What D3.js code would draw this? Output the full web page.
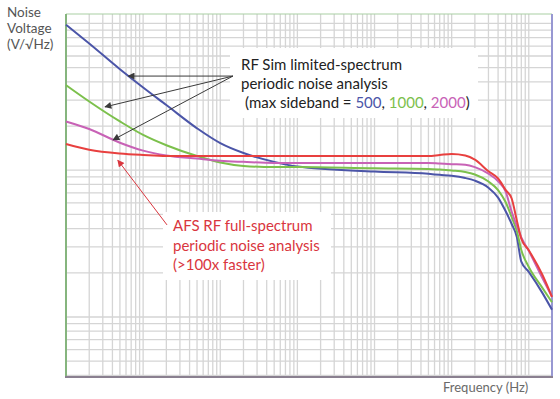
<!DOCTYPE html>
<html>
<head>
<meta charset="utf-8">
<script src="https://cdn.jsdelivr.net/npm/d3@7"></script>
<style>
  html, body { margin: 0; padding: 0; background: #fff; }
  svg { display: block; font-family: Lato, 'Open Sans', sans-serif; }
</style>
</head>
<body>
<svg id="chart"></svg>
<script>
// frequency samples (Hz) shared by all series
const frequencies = [1, 2, 5, 10, 20, 50, 100, 200, 500, 1e3, 1e4, 5e4, 7e4, 1e5, 1.5e5, 2e5, 3e5, 4e5, 5e5, 6e5, 7e5, 8e5, 1e6, 1.5e6, 2e6];

// noise voltage, arbitrary units
const sideband500 = [98, 73, 48.8, 36.6, 27.8, 19.3, 15.3, 13.1, 11.4, 10.6, 9.8, 9.45, 9.3, 9.16, 8.85, 8.49, 7.6, 6.51, 5.27, 4.3, 3.51, 2.38, 2.03, 1.46, 1.12];
const sideband1000 = [38, 29.4, 21.5, 17.4, 14.8, 12.5, 11.3, 10.7, 10.5, 10.5, 10.3, 10.2, 10.1, 9.95, 9.72, 9.35, 8.37, 7.33, 6.07, 4.8, 3.85, 2.86, 2.19, 1.58, 1.26];
const sideband2000 = [21.5, 19.1, 15.4, 13.6, 12.6, 12.0, 11.6, 11.4, 11.2, 11.2, 11.2, 11.2, 11.1, 11.0, 10.9, 10.5, 9.47, 8.41, 7.17, 5.21, 4.17, 3.49, 2.82, 1.84, 1.37];
const afsFullSpectrum = [15.1, 13.8, 13.0, 12.7, 12.5, 12.5, 12.5, 12.5, 12.5, 12.5, 12.5, 12.5, 12.7, 12.9, 12.6, 11.8, 9.83, 8.78, 7.35, 6.42, 4.55, 3.41, 2.85, 1.94, 1.37];

const series = [
  { name: '500', values: sideband500, color: '#4b55a8' },
  { name: '1000', values: sideband1000, color: '#7cc04c' },
  { name: '2000', values: sideband2000, color: '#c862b6' },
  { name: 'AFS', values: afsFullSpectrum, color: '#e8403f' }
];

const yTitle = ['Noise', 'Voltage', '(V/\u221AHz)'];
const xTitle = 'Frequency (Hz)';
const rfLines = ['RF Sim limited-spectrum', 'periodic noise analysis'];
const afsLines = ['AFS RF full-spectrum', 'periodic noise analysis', '(>100x faster)'];

// annotation anchors in data units [frequency, voltage]
const rfArrowFrom = [146, 43.8];
const rfArrowTo = [[6.4, 43.8], [3.2, 27], [4.07, 16.1]];
const afsArrowFrom = [20.4, 4.24];
const afsArrowTo = [4.7, 11.7];

const width = 560;
const height = 399;
const margin = { top: 14, right: 8, bottom: 22, left: 66 };

const svg = d3.select('#chart')
  .attr('width', width)
  .attr('height', height);

const x = d3.scaleLog()
  .domain([1, 2e6])
  .range([margin.left, width - margin.right]);

const y = d3.scaleLog()
  .domain([0.39, 116])
  .range([height - margin.bottom, margin.top]);

const logGrid = (lo, hi) => {
  const out = [];
  for (let n = lo; n <= hi; n++) {
    for (let k = 1; k <= 9; k++) out.push(k * Math.pow(10, n));
  }
  return out;
};

const xGrid = logGrid(0, 6).filter(d => d > 1 && d < 2e6);
const yGrid = logGrid(-1, 2).filter(d => d > 0.39 && d < 116);

// grid
const grid = svg.append('g')
  .attr('stroke', '#d5d5d5')
  .attr('stroke-width', 1.3);

grid.selectAll('.vx')
  .data(xGrid)
  .join('line')
  .attr('x1', d => x(d))
  .attr('x2', d => x(d))
  .attr('y1', margin.top)
  .attr('y2', height - margin.bottom);

grid.selectAll('.hy')
  .data(yGrid)
  .join('line')
  .attr('x1', margin.left)
  .attr('x2', width - margin.right)
  .attr('y1', d => y(d))
  .attr('y2', d => y(d));

// white label boxes hide the grid behind the text
svg.append('rect')
  .attr('x', 230).attr('y', 48)
  .attr('width', 248).attr('height', 70)
  .attr('fill', '#fff');

svg.append('rect')
  .attr('x', 163).attr('y', 212)
  .attr('width', 168).attr('height', 68)
  .attr('fill', '#fff');

// plot borders
svg.append('line')
  .attr('x1', margin.left).attr('x2', width - margin.right)
  .attr('y1', margin.top).attr('y2', margin.top)
  .attr('stroke', '#a9cfa4').attr('stroke-width', 1.2);

svg.append('line')
  .attr('x1', margin.left).attr('x2', margin.left)
  .attr('y1', margin.top).attr('y2', height - margin.bottom)
  .attr('stroke', '#86b57e').attr('stroke-width', 2);

svg.append('line')
  .attr('x1', width - margin.right).attr('x2', width - margin.right)
  .attr('y1', margin.top).attr('y2', height - margin.bottom)
  .attr('stroke', '#9898d2').attr('stroke-width', 2);

svg.append('line')
  .attr('x1', margin.left - 1).attr('x2', width - margin.right + 1)
  .attr('y1', height - margin.bottom).attr('y2', height - margin.bottom)
  .attr('stroke', '#8a8090').attr('stroke-width', 2);

// curves
const line = d3.line()
  .x((d, i) => x(frequencies[i]))
  .y(d => y(d))
  .curve(d3.curveMonotoneX);

svg.append('g')
  .selectAll('path')
  .data(series)
  .join('path')
  .attr('fill', 'none')
  .attr('stroke', d => d.color)
  .attr('stroke-width', 2)
  .attr('stroke-linejoin', 'round')
  .attr('d', d => line(d.values));

// arrow markers
const defs = svg.append('defs');
[['arrowDark', '#3a3a3a'], ['arrowRed', '#d9363e']].forEach(([id, color]) => {
  defs.append('marker')
    .attr('id', id)
    .attr('viewBox', '0 0 10 10')
    .attr('refX', 9).attr('refY', 5)
    .attr('markerWidth', 8).attr('markerHeight', 7)
    .attr('markerUnits', 'userSpaceOnUse')
    .attr('orient', 'auto')
    .append('path')
    .attr('d', 'M0,0L10,5L0,10Z')
    .attr('fill', color);
});

svg.append('g')
  .selectAll('line')
  .data(rfArrowTo)
  .join('line')
  .attr('x1', x(rfArrowFrom[0]))
  .attr('y1', y(rfArrowFrom[1]))
  .attr('x2', d => x(d[0]))
  .attr('y2', d => y(d[1]))
  .attr('stroke', '#3a3a3a')
  .attr('stroke-width', 1)
  .attr('marker-end', 'url(#arrowDark)');

svg.append('line')
  .attr('x1', x(afsArrowFrom[0]))
  .attr('y1', y(afsArrowFrom[1]))
  .attr('x2', x(afsArrowTo[0]))
  .attr('y2', y(afsArrowTo[1]))
  .attr('stroke', '#d9363e')
  .attr('stroke-width', 1)
  .attr('marker-end', 'url(#arrowRed)');

// annotation text
const rfText = svg.append('text')
  .attr('font-size', 15)
  .attr('fill', '#222');

rfLines.forEach((t, i) => {
  rfText.append('tspan')
    .attr('x', 241)
    .attr('y', 70 + i * 19)
    .text(t);
});

const sidebandLine = svg.append('text')
  .attr('x', 245)
  .attr('y', 108)
  .attr('font-size', 15)
  .attr('fill', '#222');

sidebandLine.append('tspan').text('(max sideband = ');
series.slice(0, 3).forEach((s, i) => {
  sidebandLine.append('tspan').attr('fill', s.color).text(s.name);
  sidebandLine.append('tspan').text(i < 2 ? ', ' : ')');
});

const afsText = svg.append('text')
  .attr('font-size', 15)
  .attr('fill', '#d9363e');

afsLines.forEach((t, i) => {
  afsText.append('tspan')
    .attr('x', 173)
    .attr('y', 231 + i * 19.5)
    .text(t);
});

// axis titles
const yt = svg.append('text')
  .attr('font-size', 13.5)
  .attr('fill', '#555');

yTitle.forEach((t, i) => {
  yt.append('tspan')
    .attr('x', 7)
    .attr('y', 17 + i * 16)
    .text(t);
});

svg.append('text')
  .attr('x', 443)
  .attr('y', 392)
  .attr('font-size', 13)
  .attr('fill', '#6a6a6a')
  .text(xTitle);
</script>
</body>
</html>
